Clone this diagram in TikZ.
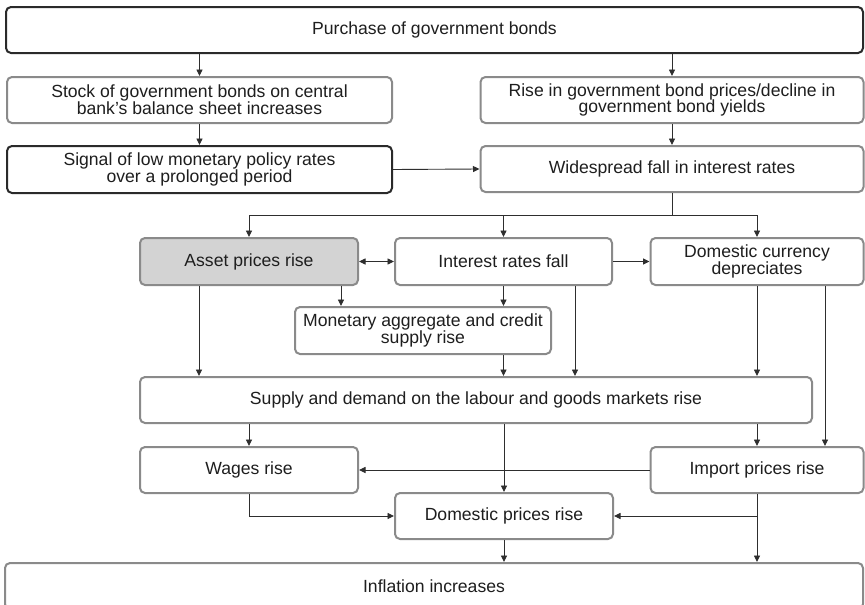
\documentclass[tikz,border=0pt]{standalone}
\usepackage{fontspec}
\setmainfont{Liberation Sans}
\usetikzlibrary{arrows.meta}
\definecolor{boxgray}{HTML}{8A8A8A}
\definecolor{boxdark}{HTML}{2A2A2A}
\definecolor{linec}{HTML}{2E2E2E}
\definecolor{txt}{HTML}{1E1E1E}
\definecolor{assetfill}{HTML}{D3D3D3}
\tikzset{
  gbox/.style={draw=boxgray, line width=2pt, rounded corners=5pt, align=center,
    inner sep=0pt, text=txt, font=\fontsize{17.6}{16.8}\selectfont, fill=white},
  dbox/.style={gbox, draw=boxdark},
  conn/.style={draw=linec, line width=0.9pt},
  arr/.style={conn, -{Triangle[length=6.5pt,width=6pt]}},
  arrtwo/.style={conn, {Triangle[length=6.5pt,width=6pt]}-{Triangle[length=6.5pt,width=6pt]}},
}
\begin{document}
\begin{tikzpicture}[x=1pt,y=-1pt]
\clip (0,0) rectangle (865,605);
\fill[white] (0,0) rectangle (865,605);

\node[dbox, minimum width=857, minimum height=46] (purchase) at (434.5,30) {Purchase of government bonds};
\node[gbox, minimum width=385, minimum height=46] (stock) at (199.5,100) {Stock of government bonds on central\\bank’s balance sheet increases};
\node[dbox, minimum width=385, minimum height=47] (signal) at (199.5,169.5) {Signal of low monetary policy rates\\over a prolonged period};
\node[gbox, minimum width=383, minimum height=46] (rise) at (672,100) {Rise in government bond prices/decline in\\government bond yields};
\node[gbox, minimum width=383, minimum height=46] (wide) at (672,169) {Widespread fall in interest rates};
\node[gbox, fill=assetfill, minimum width=218, minimum height=47] (asset) at (249,261.5) {Asset prices rise};
\node[gbox, minimum width=217, minimum height=47] (ifall) at (503.5,261.5) {Interest rates fall};
\node[gbox, minimum width=213, minimum height=47] (dcur) at (757,261.5) {Domestic currency\\depreciates};
\node[gbox, minimum width=256, minimum height=47] (mon) at (423,330.5) {Monetary aggregate and credit\\supply rise};
\node[gbox, minimum width=672, minimum height=46] (supply) at (476,400) {Supply and demand on the labour and goods markets rise};
\node[gbox, minimum width=218, minimum height=46] (wages) at (249,470) {Wages rise};
\node[gbox, minimum width=213, minimum height=46] (imp) at (757,470) {Import prices rise};
\node[gbox, minimum width=218, minimum height=46] (dom) at (504,516) {Domestic prices rise};
\node[gbox, minimum width=858, minimum height=46] (infl) at (434,586) {Inflation increases};

% top part
\draw[arr] (stock.north |- purchase.south) -- (stock.north);
\draw[arr] (rise.north |- purchase.south) -- (rise.north);
\draw[arr] (stock.south) -- (signal.north);
\draw[arr] (rise.south) -- (wide.north);
\draw[arr] (signal.east) -- (wide.west);

% distribution
\coordinate (j) at (672,215);
\draw[conn] (wide.south) -- (j);
\draw[arr] (j) -| (asset.north);
\draw[arr] (j) -| (dcur.north);
\draw[arr] (j -| ifall.north) -- (ifall.north);

\draw[arrtwo] (asset.east) -- (ifall.west);
\draw[arr] (ifall.east) -- (dcur.west);

% to monetary
\draw[arr] ([xshift=92pt]asset.south) -- ([xshift=92pt]asset.south |- mon.north);
\draw[arr] (ifall.south) -- (ifall.south |- mon.north);

% to supply
\draw[arr] ([xshift=-50pt]asset.south) -- ([xshift=-50pt]asset.south |- supply.north);
\draw[arr] (ifall.south |- mon.south) -- (ifall.south |- supply.north);
\draw[arr] ([xshift=71.5pt]ifall.south) -- ([xshift=71.5pt]ifall.south |- supply.north);
\draw[arr] (dcur.south) -- (dcur.south |- supply.north);
\draw[arr] ([xshift=68pt]dcur.south) -- ([xshift=68pt]dcur.south |- imp.north);

% from supply
\draw[arr] (wages.north |- supply.south) -- (wages.north);
\draw[arr] (dom.north |- supply.south) -- (dom.north);
\draw[arr] (imp.north |- supply.south) -- (imp.north);

% lower part
\draw[arr] (imp.west) -- (wages.east);
\draw[arr] (wages.south) |- (dom.west);
\draw[arr] (imp.south) |- (dom.east);
\draw[arr] (imp.south) -- (imp.south |- infl.north);
\draw[arr] (dom.south) -- (dom.south |- infl.north);
\end{tikzpicture}
\end{document}
